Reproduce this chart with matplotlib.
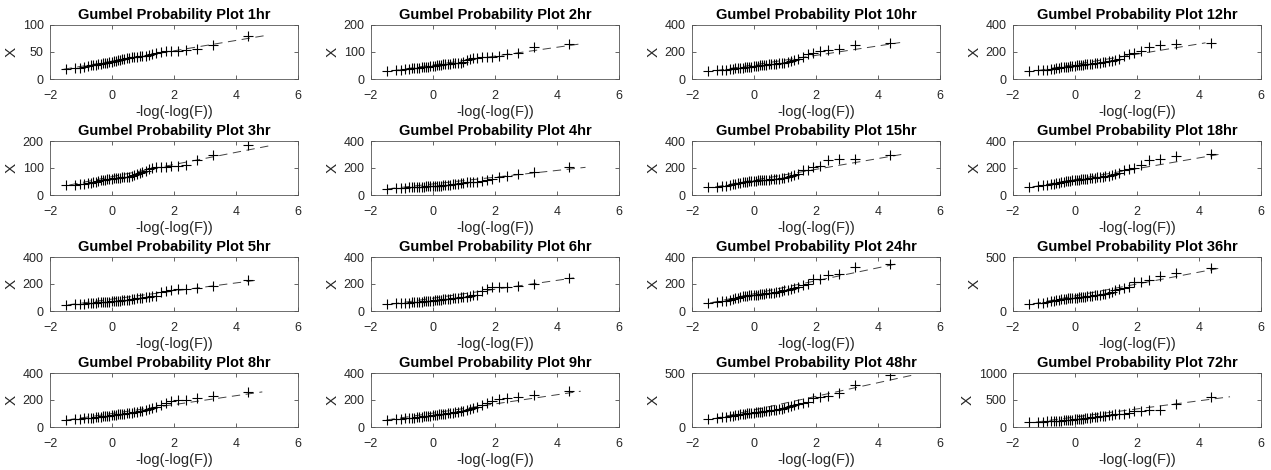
import numpy as np
import matplotlib
matplotlib.use('Agg')
import matplotlib.pyplot as plt

plt.rcParams['font.family'] = ['Liberation Sans', 'DejaVu Sans']
plt.rcParams['lines.scale_dashes'] = False

# durations (panel order, row by row)
durations = ['1hr', '2hr', '10hr', '12hr',
             '3hr', '4hr', '15hr', '18hr',
             '5hr', '6hr', '24hr', '36hr',
             '8hr', '9hr', '48hr', '72hr']

# sorted annual maxima (40 values each)
x_1hr = [18, 20, 21, 22, 24, 25, 26, 26, 27, 28, 29, 30, 30, 31, 32, 33, 34, 35, 36, 37,
         37, 38, 39, 40, 40, 41, 42, 42, 43, 45, 46, 48, 50, 51, 51, 52, 53, 55, 63, 80]
x_2hr = [30, 33, 35, 36, 38, 39, 40, 41, 42, 43, 44, 45, 46, 47, 48, 49, 50, 52, 53, 54,
         55, 56, 57, 58, 59, 60, 61, 62, 70, 75, 78, 79, 80, 81, 82, 86, 92, 97, 120, 130]
x_3hr = [37, 38, 40, 42, 44, 46, 48, 50, 52, 54, 55, 57, 58, 60, 61, 62, 63, 64, 64, 65,
         66, 67, 68, 70, 74, 78, 82, 85, 90, 98, 100, 102, 103, 104, 106, 106, 110, 130, 148, 185]
x_4hr = [45, 52, 54, 55, 56, 57, 58, 59, 60, 61, 62, 63, 64, 65, 66, 67, 68, 69, 70, 71,
         73, 75, 77, 79, 81, 83, 86, 90, 93, 95, 98, 100, 103, 108, 118, 130, 140, 155, 170, 205]
x_5hr = [45, 50, 52, 54, 56, 58, 60, 62, 64, 66, 67, 68, 69, 70, 71, 72, 73, 75, 76, 78,
         80, 82, 84, 86, 90, 93, 96, 100, 103, 106, 108, 110, 140, 148, 155, 160, 165, 170, 185, 230]
x_6hr = [50, 58, 60, 61, 62, 64, 65, 67, 68, 70, 72, 73, 74, 75, 77, 78, 80, 82, 84, 86,
         88, 90, 92, 95, 97, 99, 101, 103, 106, 110, 115, 120, 150, 160, 175, 176, 180, 185, 200, 245]
x_8hr = [52, 58, 62, 64, 66, 68, 70, 72, 74, 76, 78, 80, 82, 84, 86, 88, 90, 93, 95, 97,
         99, 101, 103, 105, 108, 112, 116, 120, 128, 135, 142, 150, 160, 175, 190, 200, 202, 215, 230, 260]
x_9hr = [52, 58, 62, 64, 66, 68, 70, 73, 75, 77, 79, 81, 83, 85, 87, 89, 91, 93, 95, 97,
         100, 102, 104, 106, 109, 112, 115, 118, 125, 135, 142, 150, 160, 178, 195, 210, 212, 220, 240, 265]
x_10hr = [62, 63, 66, 70, 73, 76, 78, 80, 82, 84, 86, 88, 90, 92, 94, 96, 98, 100, 102, 104,
          106, 108, 110, 112, 114, 116, 118, 120, 128, 135, 142, 150, 165, 185, 190, 210, 215, 225, 250, 270]
x_12hr = [62, 63, 66, 70, 74, 77, 80, 83, 86, 88, 90, 92, 94, 96, 98, 100, 102, 104, 106, 108,
          110, 112, 114, 116, 118, 120, 123, 126, 130, 135, 140, 145, 170, 185, 195, 210, 240, 255, 260, 268]
x_15hr = [60, 61, 65, 70, 74, 78, 82, 86, 90, 93, 96, 99, 101, 103, 105, 107, 108, 110, 111, 112,
          113, 114, 115, 117, 119, 122, 125, 128, 132, 138, 145, 155, 185, 188, 205, 215, 262, 265, 268, 300]
x_18hr = [60, 68, 72, 76, 80, 84, 88, 92, 95, 98, 101, 104, 106, 108, 110, 112, 114, 116, 118, 120,
          122, 124, 126, 128, 130, 132, 135, 138, 142, 148, 155, 165, 185, 190, 200, 225, 260, 268, 290, 305]
x_24hr = [60, 68, 72, 76, 82, 88, 94, 100, 105, 108, 111, 113, 115, 117, 119, 120, 122, 124, 126, 128,
          130, 132, 134, 137, 140, 143, 148, 152, 158, 165, 172, 180, 190, 200, 235, 240, 265, 275, 325, 350]
x_36hr = [65, 72, 78, 85, 90, 95, 100, 104, 108, 111, 114, 117, 119, 121, 123, 125, 127, 129, 131, 133,
          135, 138, 141, 144, 147, 150, 155, 160, 168, 176, 190, 200, 210, 220, 268, 272, 285, 320, 350, 400]
x_48hr = [75, 80, 88, 93, 98, 103, 108, 113, 117, 121, 124, 127, 130, 132, 134, 136, 138, 140, 143, 146,
          149, 152, 155, 158, 162, 166, 170, 175, 185, 195, 205, 215, 225, 230, 272, 280, 290, 315, 390, 480]
x_72hr = [90, 95, 98, 102, 105, 108, 112, 116, 120, 124, 127, 130, 133, 136, 139, 142, 146, 150, 155, 160,
          165, 170, 176, 182, 188, 195, 202, 210, 218, 228, 238, 248, 250, 255, 300, 305, 310, 315, 430, 560]

samples = [x_1hr, x_2hr, x_10hr, x_12hr,
           x_3hr, x_4hr, x_15hr, x_18hr,
           x_5hr, x_6hr, x_24hr, x_36hr,
           x_8hr, x_9hr, x_48hr, x_72hr]

# fitted Gumbel location / scale (reference lines)
mu = [33, 52, 105, 108,
      68, 82, 110, 115,
      88, 95, 128, 140,
      100, 103, 158, 185]
beta = [9.6, 16.4, 35, 38,
        22.5, 25, 40, 40,
        30, 33, 48, 55,
        33, 34, 63, 75]

# y axis limits and ticks
ylims = [100, 200, 400, 400,
         200, 400, 400, 400,
         400, 400, 400, 500,
         400, 400, 500, 1000]
ystep = [50, 100, 200, 200,
         100, 200, 200, 200,
         200, 200, 200, 500,
         200, 200, 500, 500]

fig = plt.figure(figsize=(12.71, 4.70), dpi=100)
W, H = 1271.0, 470.0
col_left = [50, 371, 692, 1013]
row_top = [25, 141, 257, 373]
ax_w, ax_h = 248, 54
grey = '#262626'

for k, (name, data) in enumerate(zip(durations, samples)):
    r, c = divmod(k, 4)
    ax = fig.add_axes([col_left[c] / W, (H - row_top[r] - ax_h) / H, ax_w / W, ax_h / H])
    y = np.sort(np.array(data, dtype=float))
    n = len(y)
    p = (np.arange(1, n + 1) - 0.5) / n
    xr = -np.log(-np.log(p))

    # reference line from min to max of the data
    yl = np.array([y.min(), y.max()])
    xl = (yl - mu[k]) / beta[k]
    ax.plot(xl, yl, color='#404040', lw=0.7, dashes=(6, 4))
    ax.plot(xr, y, '+', color='black', ms=7.5, mew=0.8)

    ax.set_xlim(-2, 6)
    ax.set_ylim(0, ylims[k])
    ax.set_xticks([-2, 0, 2, 4, 6])
    ax.set_yticks(np.arange(0, ylims[k] + 1, ystep[k]))
    ax.tick_params(direction='in', length=3, width=0.5, top=True, right=True,
                   labelsize=9, colors=grey, pad=4.5)
    ax.tick_params(axis='x', pad=8)
    for s in ax.spines.values():
        s.set_color('#555555')
        s.set_linewidth(0.6)
    ax.set_title('Gumbel Probability Plot ' + name, fontsize=10.5, fontweight='bold',
                 pad=4, color='black')
    ax.set_xlabel('-log(-log(F))', fontsize=10.5, color=grey, labelpad=2)
    ax.set_ylabel('X', fontsize=11, color=grey, labelpad=3)

fig.savefig('out.png', dpi=100)
